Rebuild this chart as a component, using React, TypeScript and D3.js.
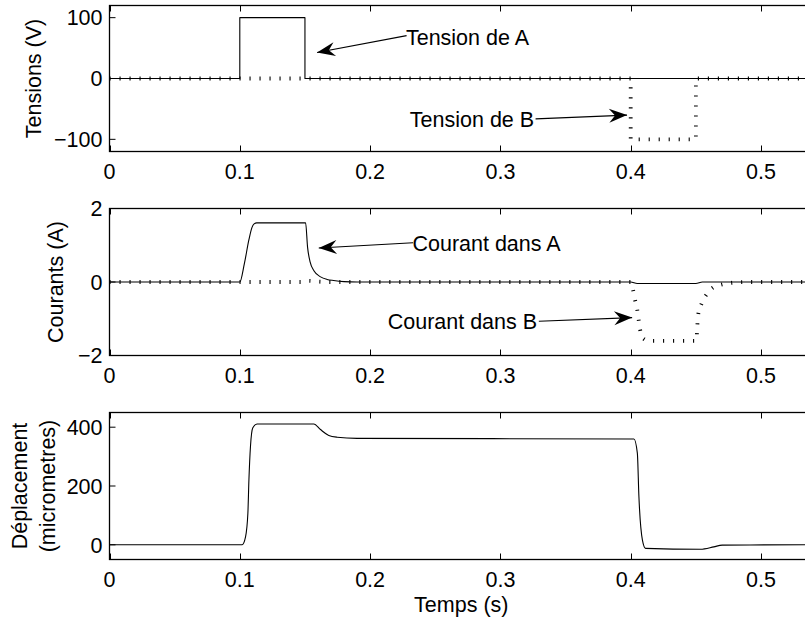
import React from 'react';
import * as d3 from 'd3';

// ---- shared x axis ----
const xDomain = [0, 0.54];
const xTicks = [0, 0.1, 0.2, 0.3, 0.4, 0.5];
const xTickLabels = ['0', '0.1', '0.2', '0.3', '0.4', '0.5'];
const xAxisTitle = 'Temps (s)';

// ---- panel 1 : tensions ----
const tensionTimeA = [0, 0.1, 0.1, 0.15, 0.15, 0.54];
const tensionA = [0, 0, 100, 100, 0, 0];
const tensionTimeB = [0, 0.4, 0.4, 0.45, 0.45, 0.54];
const tensionB = [0, 0, -100, -100, 0, 0];
const tensionDomain = [-120, 120];
const tensionTicks = [100, 0, -100];
const tensionTickLabels = ['100', '0', '\u2212100'];

// ---- panel 2 : courants ----
const courantTimeA = [0, 0.1, 0.1035, 0.107, 0.1093, 0.111, 0.113, 0.1505, 0.152, 0.154, 0.157, 0.162, 0.167, 0.172, 0.18, 0.19, 0.4, 0.405, 0.45, 0.455, 0.54];
const courantA = [0, 0, 0.5, 1.15, 1.48, 1.58, 1.61, 1.61, 0.95, 0.54, 0.3, 0.14, 0.07, 0.04, 0.01, 0, 0, -0.04, -0.04, 0, 0];
const courantTimeB = [0, 0.15, 0.153, 0.16, 0.17, 0.4, 0.4016, 0.4031, 0.405, 0.406, 0.407, 0.4085, 0.411, 0.413, 0.4505, 0.451, 0.4515, 0.4548, 0.4586, 0.4637, 0.4696, 0.478, 0.49, 0.54];
const courantB = [0, 0, 0.03, 0.01, 0, 0, -0.18, -0.45, -0.75, -1.0, -1.25, -1.48, -1.57, -1.6, -1.6, -1.3, -0.95, -0.56, -0.32, -0.14, -0.07, -0.02, 0, 0];
const courantDomain = [-2, 2];
const courantTicks = [2, 0, -2];
const courantTickLabels = ['2', '0', '\u22122'];

// ---- panel 3 : deplacement ----
const deplTime = [0, 0.1018, 0.1044, 0.1062, 0.107, 0.1082, 0.11, 0.1133, 0.1568, 0.1619, 0.1683, 0.1747, 0.19, 0.4025, 0.4051, 0.4063, 0.409, 0.4114, 0.4536, 0.4638, 0.4702, 0.54];
const deplacement = [0, 0, 27, 107, 221, 335, 398, 411, 411, 392, 372, 366, 362, 360, 312, 164, 16, -12, -15, -7, -1, 0];
const deplDomain = [-50, 450];
const deplTicks = [400, 200, 0];
const deplTickLabels = ['400', '200', '0'];

// ---- annotations (data coordinates) ----
const annTexts = ['Tension de A', 'Tension de B', 'Courant dans A', 'Courant dans B'];
const annPanel = [0, 0, 1, 1];
const annTextT = [0.2275, 0.2305, 0.2325, 0.2135];
const annTextV = [68.6, -66.3, 1.045, -1.07];
const annTailT = [0.228, 0.327, 0.233, 0.3295];
const annTailV = [70.5, -66.3, 1.07, -1.07];
const annTipT = [0.1593, 0.3972, 0.1606, 0.4011];
const annTipV = [42.7, -60.2, 0.925, -0.969];

// ---- layout ----
const FONT = "'Liberation Sans', Arial, Helvetica, sans-serif";
const FS = 21.5;
const LEFT = 109.5;
const X_PER = 1303; // px per second
const panels = [
  { top: 5.5, bottom: 151.5 },
  { top: 208.5, bottom: 355.5 },
  { top: 412.5, bottom: 559.5 },
];

const x = d3.scaleLinear().domain(xDomain).range([LEFT, LEFT + X_PER * xDomain[1]]);

function zipPts(t: number[], v: number[]) {
  return t.map((ti, i) => [ti, v[i]] as [number, number]);
}

function Panel({ idx, domain, ticks, tickLabels, series, ylabel }: any) {
  const { top, bottom } = panels[idx];
  const y = d3.scaleLinear().domain(domain).range([bottom, top]);
  const right = x(xDomain[1]);
  return (
    <g>
      {series.map((s: any, i: number) => {
        const line = d3.line<[number, number]>().x(d => x(d[0])).y(d => y(d[1])).curve(s.curve);
        return (
          <path key={i} d={line(zipPts(s.t, s.v)) || ''} fill="none" stroke="#000"
            strokeWidth={s.dotted ? 3.8 : 1.1}
            strokeDasharray={s.dotted ? '1.1 8.9' : undefined}
            strokeLinecap="butt" strokeLinejoin="round" />
        );
      })}
      <rect x={LEFT} y={top} width={right - LEFT} height={bottom - top} fill="none" stroke="#000" strokeWidth={1.3} />
      {xTicks.map((t, i) => (
        <g key={'xt' + i}>
          <line x1={Math.round(x(t)) + 0.5} x2={Math.round(x(t)) + 0.5} y1={bottom} y2={bottom - 6} stroke="#000" />
          <line x1={Math.round(x(t)) + 0.5} x2={Math.round(x(t)) + 0.5} y1={top} y2={top + 6} stroke="#000" />
          <text x={x(t)} y={bottom + 20} dy="0.36em" textAnchor="middle" fontFamily={FONT} fontSize={FS}>{xTickLabels[i]}</text>
        </g>
      ))}
      {ticks.map((v: number, i: number) => (
        <g key={'yt' + i}>
          <line x1={LEFT} x2={LEFT + 6} y1={y(v)} y2={y(v)} stroke="#000" />
          <text x={LEFT - 7} y={y(v)} dy="0.36em" textAnchor="end" fontFamily={FONT} fontSize={FS}>{tickLabels[i]}</text>
        </g>
      ))}
      {ylabel}
    </g>
  );
}

function Arrow({ x1, y1, x2, y2 }: any) {
  const ang = Math.atan2(y2 - y1, x2 - x1) * 180 / Math.PI;
  return (
    <g>
      <line x1={x1} y1={y1} x2={x2} y2={y2} stroke="#000" strokeWidth={1.1} />
      <path d="M0,0 L-18,-7 L-12,0 L-18,7 Z" fill="#000" transform={`translate(${x2},${y2}) rotate(${ang})`} />
    </g>
  );
}

export default function App() {
  const yScales = [tensionDomain, courantDomain, deplDomain].map((dom, i) =>
    d3.scaleLinear().domain(dom).range([panels[i].bottom, panels[i].top]));
  const midY = (i: number) => (panels[i].top + panels[i].bottom) / 2;
  return (
    <svg width={805} height={618} style={{ position: 'absolute', left: 0, top: 0, background: '#fff' }}>
      <rect x={0} y={0} width={805} height={618} fill="#fff" />
      <Panel idx={0} domain={tensionDomain} ticks={tensionTicks} tickLabels={tensionTickLabels}
        series={[
          { t: tensionTimeA, v: tensionA, curve: d3.curveLinear },
          { t: tensionTimeB, v: tensionB, curve: d3.curveLinear, dotted: true },
        ]}
        ylabel={<text transform={`translate(33,${midY(0)}) rotate(-90)`} textAnchor="middle" dy="0.36em" fontFamily={FONT} fontSize={FS}>Tensions (V)</text>} />
      <Panel idx={1} domain={courantDomain} ticks={courantTicks} tickLabels={courantTickLabels}
        series={[
          { t: courantTimeA, v: courantA, curve: d3.curveMonotoneX },
          { t: courantTimeB, v: courantB, curve: d3.curveMonotoneX, dotted: true },
        ]}
        ylabel={<text transform={`translate(55,${midY(1)}) rotate(-90)`} textAnchor="middle" dy="0.36em" fontFamily={FONT} fontSize={FS}>Courants (A)</text>} />
      <Panel idx={2} domain={deplDomain} ticks={deplTicks} tickLabels={deplTickLabels}
        series={[{ t: deplTime, v: deplacement, curve: d3.curveMonotoneX }]}
        ylabel={<g>
          <text transform={`translate(19,${midY(2)}) rotate(-90)`} textAnchor="middle" dy="0.36em" fontFamily={FONT} fontSize={FS}>Déplacement</text>
          <text transform={`translate(47,${midY(2)}) rotate(-90)`} textAnchor="middle" dy="0.36em" fontFamily={FONT} fontSize={FS}>(micrometres)</text>
        </g>} />
      <text x={(LEFT + x(xDomain[1])) / 2} y={604} dy="0.36em" textAnchor="middle" fontFamily={FONT} fontSize={FS}>{xAxisTitle}</text>
      {annTexts.map((txt, i) => {
        const ys = yScales[annPanel[i]];
        return (
          <g key={'ann' + i}>
            <Arrow x1={x(annTailT[i])} y1={ys(annTailV[i])} x2={x(annTipT[i])} y2={ys(annTipV[i])} />
            <text x={x(annTextT[i])} y={ys(annTextV[i])} dy="0.36em" fontFamily={FONT} fontSize={FS}>{txt}</text>
          </g>
        );
      })}
    </svg>
  );
}
